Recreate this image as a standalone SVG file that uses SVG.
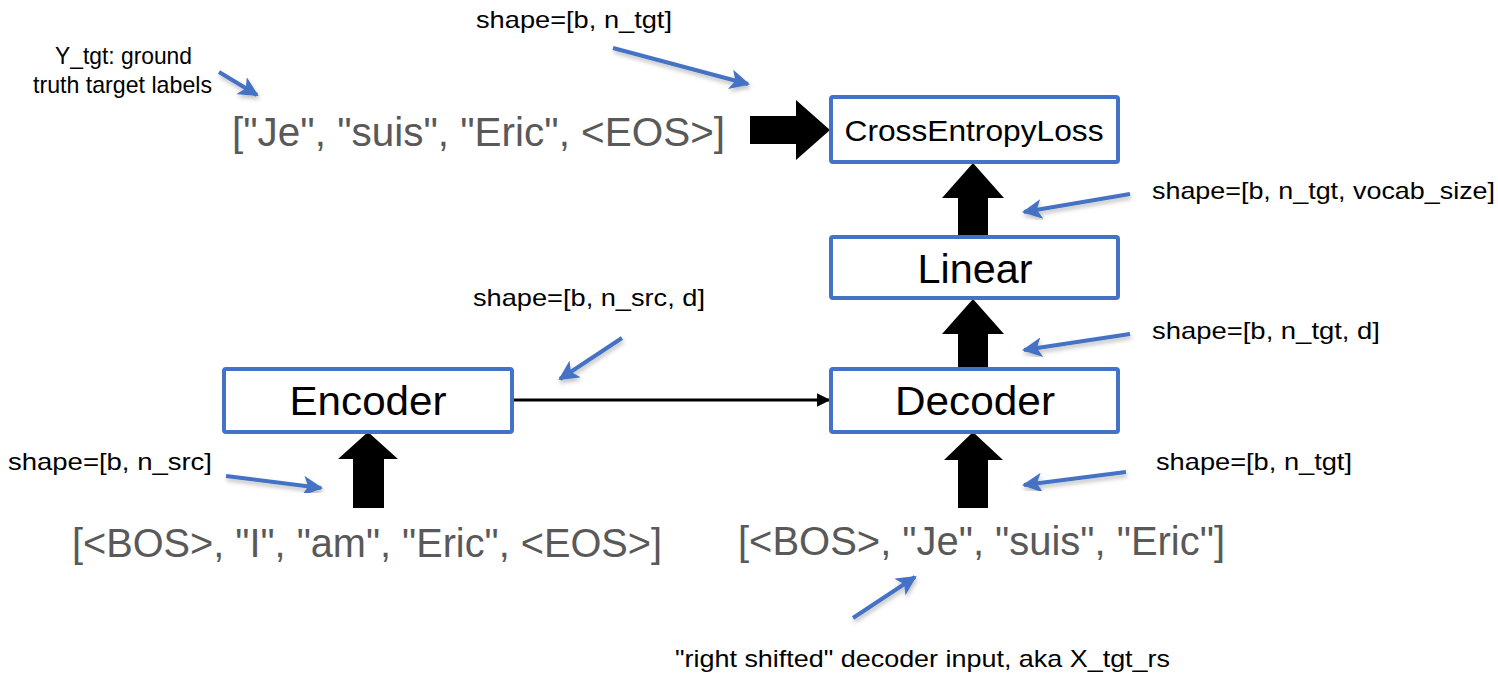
<svg xmlns="http://www.w3.org/2000/svg" width="1498" height="678" viewBox="0 0 1498 678">
  <defs>
    <marker id="blueHead" viewBox="0 0 10 10" refX="9" refY="5" markerWidth="5" markerHeight="5" orient="auto" markerUnits="strokeWidth">
      <path d="M0,0 L10,5 L0,10 L2.5,5 Z" fill="#4472C4"/>
    </marker>
    <marker id="blackHead" viewBox="0 0 10 10" refX="9" refY="5" markerWidth="4.5" markerHeight="4.5" orient="auto" markerUnits="strokeWidth">
      <path d="M0,0 L10,5 L0,10 Z" fill="#000"/>
    </marker>
    <filter id="shadow" x="-20%" y="-20%" width="140%" height="160%">
      <feDropShadow dx="1" dy="3" stdDeviation="2" flood-color="#000" flood-opacity="0.25"/>
    </filter>
  </defs>
  <style>
    .box { fill: #fff; stroke: #4472C4; stroke-width: 4; }
    .node-label { font-family: "Liberation Sans", Arial, sans-serif; fill: #000; text-anchor: middle; }
    .seq { font-family: "Liberation Sans", Arial, sans-serif; font-size: 40px; fill: #595959; }
    .note { font-family: "Liberation Sans", Arial, sans-serif; font-size: 24px; fill: #000; }
    .pointer { stroke: #4472C4; stroke-width: 4; fill: none; marker-end: url(#blueHead); filter: url(#shadow); }
    .block { fill: #000; }
  </style>

  <rect width="1498" height="678" fill="#fff"/>

  <!-- token sequences -->
  <text class="seq" x="232" y="146" textLength="493" lengthAdjust="spacingAndGlyphs">["Je", "suis", "Eric", &lt;EOS&gt;]</text>
  <text class="seq" x="72" y="557" textLength="590" lengthAdjust="spacingAndGlyphs">[&lt;BOS&gt;, "I", "am", "Eric", &lt;EOS&gt;]</text>
  <text class="seq" x="738" y="555" textLength="487" lengthAdjust="spacingAndGlyphs">[&lt;BOS&gt;, "Je", "suis", "Eric"]</text>

  <!-- shape annotations -->
  <text class="note" x="476" y="28" textLength="196" lengthAdjust="spacingAndGlyphs">shape=[b, n_tgt]</text>
  <text class="note" x="55" y="64" font-size="21" textLength="137" lengthAdjust="spacingAndGlyphs">Y_tgt: ground</text>
  <text class="note" x="33" y="93" font-size="21" textLength="179" lengthAdjust="spacingAndGlyphs">truth target labels</text>
  <text class="note" x="1152" y="199" textLength="343" lengthAdjust="spacingAndGlyphs">shape=[b, n_tgt, vocab_size]</text>
  <text class="note" x="1152" y="339" textLength="228" lengthAdjust="spacingAndGlyphs">shape=[b, n_tgt, d]</text>
  <text class="note" x="473" y="306" textLength="232" lengthAdjust="spacingAndGlyphs">shape=[b, n_src, d]</text>
  <text class="note" x="8" y="470" textLength="204" lengthAdjust="spacingAndGlyphs">shape=[b, n_src]</text>
  <text class="note" x="1156" y="470" textLength="196" lengthAdjust="spacingAndGlyphs">shape=[b, n_tgt]</text>
  <text class="note" x="675" y="667" textLength="495" lengthAdjust="spacingAndGlyphs">"right shifted" decoder input, aka X_tgt_rs</text>

  <g id="connectors">
    <!-- block arrows -->
    <polygon class="block" points="750,116 796,116 796,100 830,130 796,160 796,144 750,144"/>
    <polygon class="block" points="958,236 958,198 942,198 973,163 1004,198 988,198 988,236"/>
    <polygon class="block" points="958,368 958,334 942,334 973,299 1004,334 988,334 988,368"/>
    <polygon class="block" points="353,508 353,459 338,459 368,432 398,459 384,459 384,508"/>
    <polygon class="block" points="958,508 958,460 944,460 973,432 1003,460 988,460 988,508"/>
    <!-- encoder to decoder -->
    <line x1="512" y1="400" x2="829" y2="400" stroke="#000" stroke-width="3" marker-end="url(#blackHead)"/>
    <!-- annotation pointers -->
    <line class="pointer" x1="219" y1="72" x2="257" y2="95"/>
    <line class="pointer" x1="613" y1="48" x2="748" y2="84"/>
    <line class="pointer" x1="1130" y1="194" x2="1024" y2="212"/>
    <line class="pointer" x1="1130" y1="334" x2="1024" y2="350"/>
    <line class="pointer" x1="622" y1="338" x2="560" y2="379"/>
    <line class="pointer" x1="226" y1="476" x2="321" y2="488"/>
    <line class="pointer" x1="1126" y1="472" x2="1024" y2="485"/>
    <line class="pointer" x1="853" y1="618" x2="915" y2="577"/>
  </g>

  <g id="cross-entropy-loss">
    <rect class="box" x="831" y="97" width="287" height="65" rx="2"/>
    <text class="node-label" x="974" y="141" font-size="30" textLength="259" lengthAdjust="spacingAndGlyphs">CrossEntropyLoss</text>
  </g>
  <g id="linear">
    <rect class="box" x="831" y="237" width="287" height="61" rx="2"/>
    <text class="node-label" x="975" y="283" font-size="41" textLength="115" lengthAdjust="spacingAndGlyphs">Linear</text>
  </g>
  <g id="encoder">
    <rect class="box" x="224" y="369" width="288" height="63" rx="2"/>
    <text class="node-label" x="368" y="415" font-size="41" textLength="157" lengthAdjust="spacingAndGlyphs">Encoder</text>
  </g>
  <g id="decoder">
    <rect class="box" x="831" y="369" width="287" height="63" rx="2"/>
    <text class="node-label" x="975" y="415" font-size="41" textLength="160" lengthAdjust="spacingAndGlyphs">Decoder</text>
  </g>
</svg>
